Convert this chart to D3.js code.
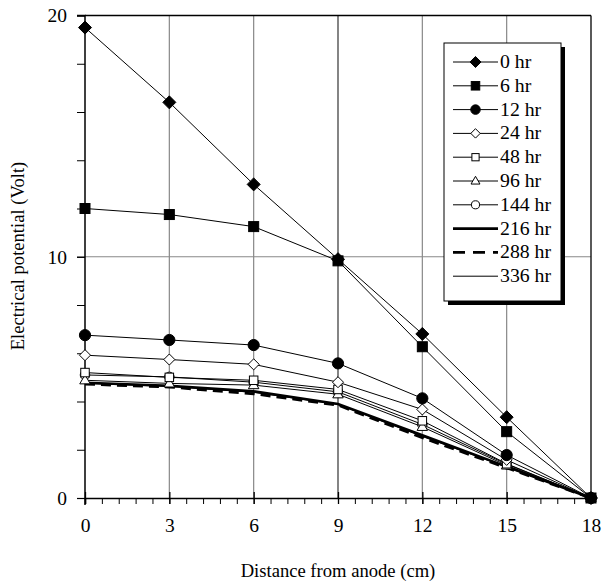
<!DOCTYPE html>
<html><head><meta charset="utf-8">
<script src="https://cdn.jsdelivr.net/npm/d3@7"></script>
<style>body{margin:0;background:#fff}svg{display:block}</style>
</head><body><svg id="c" width="603" height="587" style="font-family:'Liberation Serif','Times New Roman','DejaVu Serif',serif"></svg>
<script>
const distances = [0, 3, 6, 9, 12, 15, 18];
const seriesNames = ["0 hr","6 hr","12 hr","24 hr","48 hr","96 hr","144 hr","216 hr","288 hr","336 hr"];
const v0   = [19.5, 16.4, 13.0, 9.9, 6.8, 3.35, 0];
const v6   = [12.0, 11.75, 11.25, 9.83, 6.27, 2.75, 0];
const v12  = [6.75, 6.55, 6.34, 5.58, 4.13, 1.78, 0];
const v24  = [5.92, 5.74, 5.54, 4.8, 3.67, 1.58, 0];
const v48  = [5.2, 5.0, 4.88, 4.5, 3.2, 1.42, 0];
const v96  = [4.88, 4.75, 4.68, 4.3, 2.95, 1.35, 0];
const v144 = [5.1, 5.02, 4.8, 4.4, 3.05, 1.4, 0];
const v216 = [4.78, 4.65, 4.42, 3.9, 2.6, 1.3, 0];
const v288 = [4.72, 4.6, 4.32, 3.85, 2.5, 1.25, 0];
const v336 = [4.75, 4.62, 4.38, 3.88, 2.55, 1.28, 0];
const xTicks = [0, 3, 6, 9, 12, 15, 18];
const yTicks = [0, 10, 20];
const values = [v0, v6, v12, v24, v48, v96, v144, v216, v288, v336];

const FONT = "'Liberation Serif','Times New Roman','DejaVu Serif',serif";
const styles = [
  {m:"diamond", fill:"#000", s:1, w:1},
  {m:"square", fill:"#000", s:1, w:1},
  {m:"circle", fill:"#000", s:1, w:1},
  {m:"diamond", fill:"#fff", s:0.85, w:1},
  {m:"square", fill:"#fff", s:0.85, w:1},
  {m:"triangle", fill:"#fff", s:0.85, w:1},
  {m:"circle", fill:"#fff", s:0.85, w:1},
  {m:null, w:2.6},
  {m:null, w:2.8, dash:"10,6"},
  {m:null, w:1}
];

const svg = d3.select("#c");
const L = 85, R = 591, T = 15.5, B = 498;
const x = d3.scaleLinear().domain([0,18]).range([L,R]);
const y = d3.scaleLinear().domain([0,20]).range([B,T]);

// grid
const g = svg.append("g");
g.selectAll(".vg").data(xTicks.filter(d=>d>0&&d<18)).enter().append("line")
  .attr("x1",d=>x(d)).attr("x2",d=>x(d)).attr("y1",T).attr("y2",B)
  .attr("stroke",d=>d===9?"#333":"#888").attr("stroke-width",1.2);
g.selectAll(".hg").data([10]).enter().append("line")
  .attr("x1",L).attr("x2",R).attr("y1",d=>y(d)).attr("y2",d=>y(d))
  .attr("stroke","#888").attr("stroke-width",1.2);
svg.append("line").attr("x1",L).attr("x2",R).attr("y1",T).attr("y2",T).attr("stroke","#000").attr("stroke-width",1.3);
svg.append("line").attr("x1",R).attr("x2",R).attr("y1",T).attr("y2",B).attr("stroke","#000").attr("stroke-width",1.3);

// axes
const xMinor = d3.range(0, 18.001, 0.6);
const xAxis = d3.axisBottom(x).tickValues(xMinor).tickSize(6).tickFormat("");
const xa = svg.append("g").attr("transform",`translate(0,${B})`).call(xAxis);
xa.select(".domain").attr("stroke","#000").attr("stroke-width",1.5);
xa.selectAll(".tick line").attr("stroke","#000").attr("stroke-width",1);
const xMaj = d3.axisBottom(x).tickValues(xTicks).tickSize(6).tickPadding(14).tickFormat(d3.format("d"));
const xm = svg.append("g").attr("transform",`translate(0,${B})`).call(xMaj);
xm.attr("font-family",FONT).attr("font-size",19.5);
xm.select(".domain").remove();
xm.selectAll(".tick line").attr("y1",-6).attr("stroke","#000").attr("stroke-width",1.3);
xm.selectAll(".tick text").attr("fill","#000");

const yMinor = d3.range(0, 20.001, 2);
const yAxis = d3.axisLeft(y).tickValues(yMinor).tickSize(8).tickFormat("");
const ya = svg.append("g").attr("transform",`translate(${L},0)`).call(yAxis);
ya.select(".domain").attr("stroke","#000").attr("stroke-width",1.5).attr("d",`M-8,${T}H0V${B+7}`);
ya.selectAll(".tick line").attr("stroke","#000").attr("stroke-width",1);
const yMaj = d3.axisLeft(y).tickValues(yTicks).tickSize(8).tickPadding(10).tickFormat(d3.format("d"));
const ym = svg.append("g").attr("transform",`translate(${L},0)`).call(yMaj);
ym.attr("font-family",FONT).attr("font-size",19.5);
ym.select(".domain").remove();
ym.selectAll(".tick line").attr("stroke","#000").attr("stroke-width",1.2);
ym.selectAll(".tick text").attr("fill","#000");

// titles
svg.append("text").attr("x",338).attr("y",577).attr("text-anchor","middle")
  .attr("font-family",FONT).attr("font-size",18.6).text("Distance from anode (cm)");
svg.append("text").attr("transform",`translate(24,256) rotate(-90)`).attr("text-anchor","middle")
  .attr("font-family",FONT).attr("font-size",18.6).text("Electrical potential (Volt)");

function marker(sel, st, cx, cy, scale){
  const k = st.s*(scale||1);
  if(st.m==="diamond"){
    const r=6.5*k;
    sel.append("path").attr("d",`M${cx},${cy-r}L${cx+r},${cy}L${cx},${cy+r}L${cx-r},${cy}Z`)
      .attr("fill",st.fill).attr("stroke","#000").attr("stroke-width",1);
  } else if(st.m==="square"){
    const r=5*k;
    sel.append("rect").attr("x",cx-r).attr("y",cy-r).attr("width",2*r).attr("height",2*r)
      .attr("fill",st.fill).attr("stroke","#000").attr("stroke-width",1);
  } else if(st.m==="circle"){
    sel.append("circle").attr("cx",cx).attr("cy",cy).attr("r",5.6*k)
      .attr("fill",st.fill).attr("stroke","#000").attr("stroke-width",1);
  } else if(st.m==="triangle"){
    const r=6.5*k;
    sel.append("path").attr("d",`M${cx},${cy-r}L${cx+r*0.95},${cy+r*0.65}L${cx-r*0.95},${cy+r*0.65}Z`)
      .attr("fill",st.fill).attr("stroke","#000").attr("stroke-width",1);
  }
}

// lines
const line = d3.line().x((d,i)=>x(distances[i])).y(d=>y(d));
const plot = svg.append("g");
values.slice().reverse().forEach((vals,ri)=>{
  const st = styles[values.length-1-ri];
  plot.append("path").attr("d",line(vals)).attr("fill","none").attr("stroke","#000")
    .attr("stroke-width",st.w).attr("stroke-dasharray",st.dash||null);
});
values.slice().reverse().forEach((vals,ri)=>{
  const st = styles[values.length-1-ri];
  if(!st.m) return;
  vals.forEach((v,i)=>marker(plot, st, x(distances[i]), y(v)));
});

// legend
const lx=444, ly=43, lw=117, lh=258;
svg.append("rect").attr("x",lx+4).attr("y",ly+4).attr("width",lw).attr("height",lh).attr("fill","#000");
svg.append("rect").attr("x",lx).attr("y",ly).attr("width",lw).attr("height",lh).attr("fill","#fff").attr("stroke","#000").attr("stroke-width",1);
seriesNames.forEach((nm,si)=>{
  const st = styles[si];
  const yy = ly+19+si*23.8;
  svg.append("line").attr("x1",453).attr("x2",498).attr("y1",yy).attr("y2",yy).attr("stroke","#000")
    .attr("stroke-width",st.w).attr("stroke-dasharray",st.dash?"12,8":null);
  if(st.m) marker(svg, st, 475.5, yy, 0.85);
  svg.append("text").attr("x",500).attr("y",yy+6).attr("font-family",FONT).attr("font-size",19.8).text(nm);
});
</script></body></html>
